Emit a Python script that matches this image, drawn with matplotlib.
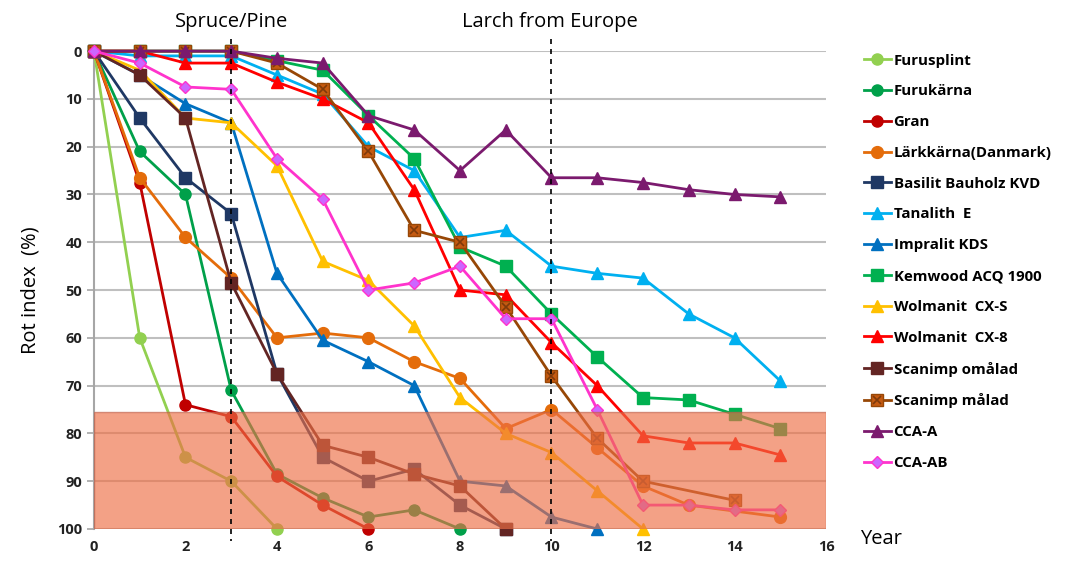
import matplotlib.pyplot as plt
from matplotlib.legend_handler import HandlerTuple
from matplotlib.patches import Rectangle
import numpy as np

plt.rcParams['font.family'] = ['Open Sans', 'DejaVu Sans']

# 系列データ（年, 腐朽指数 %）
names = ["Furusplint", "Furukärna", "Gran", "Lärkkärna(Danmark)",
         "Basilit Bauholz KVD", "Tanalith  E", "Impralit KDS", "Kemwood ACQ 1900",
         "Wolmanit  CX-S", "Wolmanit  CX-8", "Scanimp omålad", "Scanimp målad",
         "CCA-A", "CCA-AB"]

x_furusplint = [0, 1, 2, 3, 4]
y_furusplint = [0, 60, 85, 90, 100]
x_furukarna = [0, 1, 2, 3, 4, 5, 6, 7, 8]
y_furukarna = [0, 21, 30, 71, 88.5, 93.5, 97.5, 96, 100]
x_gran = [0, 1, 2, 3, 4, 5, 6]
y_gran = [0, 27.5, 74, 76.5, 89, 95, 100]
x_larkkarna = [0, 1, 2, 3, 4, 5, 6, 7, 8, 9, 10, 11, 12, 13, 15]
y_larkkarna = [0, 26.5, 39, 47.5, 60, 59, 60, 65, 68.5, 79, 75, 83, 91, 95, 97.5]
x_basilit = [0, 1, 2, 3, 4, 5, 6, 7, 8, 9]
y_basilit = [0, 14, 26.5, 34, 67.5, 85, 90, 87.5, 95, 100]
x_tanalith = list(range(16))
y_tanalith = [0, 1, 1, 1, 5, 9, 20, 25, 39, 37.5, 45, 46.5, 47.5, 55, 60, 69]
x_impralit = list(range(12))
y_impralit = [0, 5, 11, 15, 46.5, 60.5, 65, 70, 90, 91, 97.5, 100]
x_kemwood = list(range(16))
y_kemwood = [0, 0, 0, 0, 2, 4, 13.5, 22.5, 41, 45, 55, 64, 72.5, 73, 76, 79]
x_cxs = list(range(13))
y_cxs = [0, 4, 14, 15, 24, 44, 48, 57.5, 72.5, 80, 84, 92, 100]
x_cx8 = list(range(16))
y_cx8 = [0, 0, 2.5, 2.5, 6.5, 10, 15, 29, 50, 51, 61, 70, 80.5, 82, 82, 84.5]
x_omalad = [0, 1, 2, 3, 4, 5, 6, 7, 8, 9]
y_omalad = [0, 5, 14, 48.5, 67.5, 82.5, 85, 88.5, 91, 100]
x_malad = [0, 1, 2, 3, 4, 5, 6, 7, 8, 9, 10, 11, 12, 14]
y_malad = [0, 0, 0, 0, 2.5, 8, 21, 37.5, 40, 53.5, 68, 81, 90, 94]
x_cca_a = list(range(16))
y_cca_a = [0, 0, 0, 0, 1.5, 2.5, 13.5, 16.5, 25, 16.5, 26.5, 26.5, 27.5, 29, 30, 30.5]
x_cca_ab = list(range(16))
y_cca_ab = [0, 2.5, 7.5, 8, 22.5, 31, 50, 48.5, 45, 56, 56, 75, 95, 95, 96, 96]

xs = [x_furusplint, x_furukarna, x_gran, x_larkkarna, x_basilit, x_tanalith,
      x_impralit, x_kemwood, x_cxs, x_cx8, x_omalad, x_malad, x_cca_a, x_cca_ab]
ys = [y_furusplint, y_furukarna, y_gran, y_larkkarna, y_basilit, y_tanalith,
      y_impralit, y_kemwood, y_cxs, y_cx8, y_omalad, y_malad, y_cca_a, y_cca_ab]

# 線色, マーカー, マーカー塗り
line_colors = ["#92d050", "#00a04a", "#c00000", "#e46c0a", "#1f3864", "#00b0f0",
               "#0070c0", "#00b050", "#ffc000", "#ff0000", "#632523", "#974706",
               "#7b1a6e", "#ff33cc"]
markers = ["o", "o", "o", "o", "s", "^", "^", "s", "^", "^", "s", "s", "^", "D"]
face_colors = ["#92d050", "#00a04a", "#c00000", "#e46c0a", "#1f3864", "#00b0f0",
               "#0070c0", "#00b050", "#ffc000", "#ff0000", "#632523", "#c55a11",
               "#7b1a6e", "#cc66ff"]
marker_sizes = [8, 8, 8, 8.5, 8, 8.5, 8.5, 8, 8.5, 8.5, 8, 8, 8.5, 6.5]

fig = plt.figure(figsize=(10.84, 5.68), dpi=100)
ax = fig.add_axes([0.0867, 0.0687, 0.6753, 0.8413])

handles = []
for i in range(len(names)):
    ln, = ax.plot(xs[i], ys[i], color=line_colors[i], lw=2.0, marker=markers[i],
                  markersize=marker_sizes[i], markerfacecolor=face_colors[i],
                  markeredgecolor=line_colors[i], markeredgewidth=1.0,
                  zorder=3 + i * 0.1, clip_on=False)
    if names[i] == "Scanimp målad":
        xm, = ax.plot(xs[i], ys[i], ls="none", marker="x", markersize=6,
                      color="#7f3a0a", markeredgewidth=1.2, zorder=3 + i * 0.1 + 0.05,
                      clip_on=False)
        handles.append((ln, xm))
    else:
        handles.append(ln)

# 腐朽領域（半透明の四角形を線の上に重ねる）
ax.add_patch(Rectangle((0, 75.5), 16, 24.5, facecolor="#ee6f45", alpha=0.65,
                       edgecolor="#c0604a", lw=1.0, zorder=10))

# 区切りの破線
for xv in [3, 10]:
    ax.plot([xv, xv], [-2.5, 102.5], ls=(0, (3, 3)), color="black", lw=1.2,
            zorder=11, clip_on=False)

ax.set_xlim(0, 16)
ax.set_ylim(100, 0)
ax.set_xticks(np.arange(0, 17, 2))
ax.set_yticks(np.arange(0, 101, 10))
ax.tick_params(axis="both", labelsize=10.5, colors="#222222")
ax.tick_params(axis="x", length=0, pad=8)
ax.tick_params(axis="y", length=5, color="#a6a6a6", width=1.2)
for lab in ax.get_xticklabels() + ax.get_yticklabels():
    lab.set_fontweight("bold")

ax.grid(axis="y", color="#bfbfbf", lw=1.5, zorder=0)
ax.set_axisbelow(True)
for s in ["top", "right", "bottom"]:
    ax.spines[s].set_visible(False)
ax.spines["left"].set_color("#a6a6a6")
ax.spines["left"].set_linewidth(1.5)

ax.set_ylabel("Rot index  (%)", fontsize=14.5, labelpad=12)

fig.text(232 / 1084, 1 - 22 / 568, "Spruce/Pine", fontsize=14.5, ha="center", va="center")
fig.text(550 / 1084, 1 - 22 / 568, "Larch from Europe", fontsize=14.5, ha="center", va="center")
fig.text(860 / 1084, 1 - 539 / 568, "Year", fontsize=14.5, ha="left", va="center")

fig.legend(handles, names, loc="upper left", bbox_to_anchor=(850 / 1084, 1 - 40 / 568),
           frameon=False, handlelength=1.8, handletextpad=0.2, labelspacing=1.12,
           prop={"weight": "bold", "size": 10.8},
           handler_map={tuple: HandlerTuple(ndivide=1)})

fig.savefig("out.png", dpi=100)
